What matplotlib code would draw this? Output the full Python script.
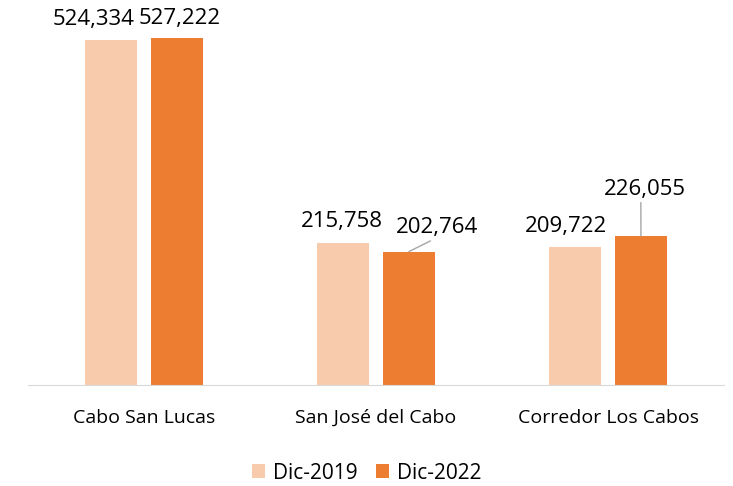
import matplotlib.pyplot as plt
import numpy as np

plt.rcParams["font.family"] = ["Open Sans", "DejaVu Sans"]

regiones = ["Cabo San Lucas", "San José del Cabo", "Corredor Los Cabos"]
dic2019 = [524334, 215758, 209722]
dic2022 = [527222, 202764, 226055]
series = ["Dic-2019", "Dic-2022"]

fig = plt.figure(figsize=(7.33, 4.86), dpi=100)
ax = fig.add_axes([28 / 733, 1 - 385 / 486, 696 / 733, 375 / 486])

x = np.arange(len(regiones))
w = 0.224
off = 0.142
b1 = ax.bar(x - off, dic2019, w, color="#F8CBAD", label=series[0])
b2 = ax.bar(x + off, dic2022, w, color="#ED7D31", label=series[1])

ax.set_xlim(-0.5, 2.5)
ax.set_ylim(0, 570000)
ax.set_yticks([])
for s in ["top", "right", "left"]:
    ax.spines[s].set_visible(False)
ax.spines["bottom"].set_color("#D9D9D9")
ax.set_xticks(x)
ax.set_xticklabels(regiones, fontsize=14)
ax.tick_params(axis="x", length=0, pad=17)

fmt = lambda v: f"{v:,}"
lbl = dict(textcoords="offset pixels", ha="center", va="center", fontsize=16)
guia = dict(arrowstyle="-", color="#A6A6A6", lw=1, shrinkA=0, shrinkB=0)

# etiquetas normales
ax.annotate(fmt(dic2019[0]), (x[0] - off, dic2019[0]), xytext=(-17, 21), **lbl)
ax.annotate(fmt(dic2022[0]), (x[0] + off, dic2022[0]), xytext=(3, 20), **lbl)
ax.annotate(fmt(dic2019[1]), (x[1] - off, dic2019[1]), xytext=(-1, 22), **lbl)
ax.annotate(fmt(dic2019[2]), (x[2] - off, dic2019[2]), xytext=(-9, 21), **lbl)
# etiquetas con linea guia
ax.annotate(fmt(dic2022[1]), (x[1] + off, dic2022[1]), xytext=(28, 24),
            arrowprops=dict(relpos=(0.55, 0.12), **guia), **lbl)
ax.annotate(fmt(dic2022[2]), (x[2] + off, dic2022[2]), xytext=(4, 47),
            arrowprops=dict(relpos=(0.45, 0.0), **guia), **lbl)

fig.legend(handles=[b1, b2], loc="center", bbox_to_anchor=(0.5, 1 - 473 / 486),
           ncol=2, frameon=False, fontsize=15, handlelength=0.65, handleheight=0.65,
           columnspacing=0.9, handletextpad=0.35)

fig.savefig("out.png", dpi=100)
